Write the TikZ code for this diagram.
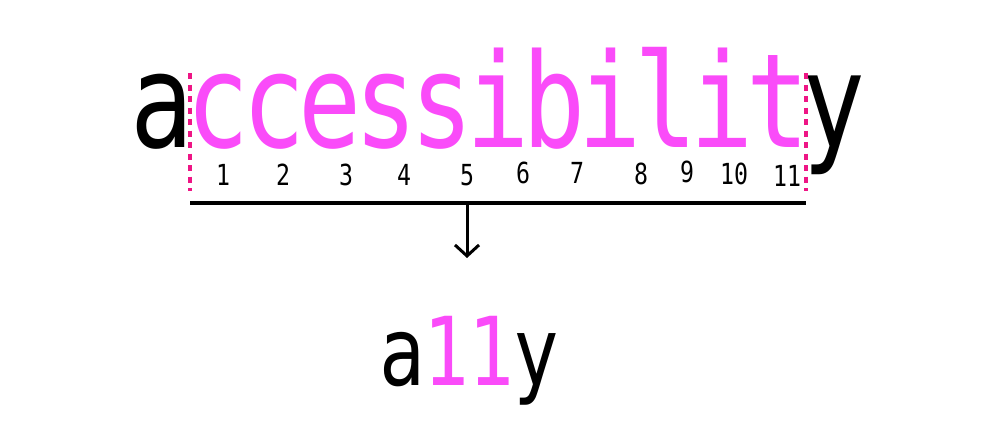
\documentclass[tikz,border=0pt]{standalone}
\usepackage{fontspec}
\usetikzlibrary{arrows.meta}
\newfontfamily\wordfont[FakeStretch=0.8]{DejaVu Sans Mono}
\newfontfamily\numfont[FakeStretch=0.8]{DejaVu Sans Mono}
\definecolor{letterpink}{HTML}{FA4BF9}
\definecolor{dashpink}{HTML}{EE1585}

\begin{document}
\begin{tikzpicture}[x=1pt,y=-1pt,
  bigletter/.style={inner sep=0pt,anchor=base,font=\wordfont\fontsize{131}{131}\selectfont},
  smallletter/.style={inner sep=0pt,anchor=base,font=\wordfont\fontsize{95}{95}\selectfont},
  count/.style={inner sep=0pt,anchor=base,font=\numfont\fontsize{29}{29}\selectfont},
  marker/.style={dashpink,line width=3.5pt,dash pattern=on 6pt off 5.5pt}]
  \useasboundingbox (0,0) rectangle (1000,420);
  % the long word, one letter per cell
  \foreach \ch/\k/\col in {a/0/black,c/1/letterpink,c/2/letterpink,e/3/letterpink,
      s/4/letterpink,s/5/letterpink,i/6/letterpink,b/7/letterpink,i/8/letterpink,
      l/9/letterpink,i/10/letterpink,t/11/letterpink,y/12/black}
    \node[bigletter,text=\col] (w\k) at (162+56*\k,147) {\ch};
  \coordinate (ml) at (190,73);
  \coordinate (mr) at (806,73);
  \draw[marker] (ml) -- ++(0,118);
  \draw[marker] (mr) -- ++(0,118);
  % letter counts
  \node[count] (n1) at (223,185) {1};
  \node[count] (n2) at (283,185) {2};
  \node[count] (n3) at (346,185) {3};
  \node[count] (n4) at (404,185) {4};
  \node[count] (n5) at (467,185) {5};
  \node[count] (n6) at (523,183) {6};
  \node[count] (n7) at (577,183) {7};
  \node[count] (n8) at (641,184) {8};
  \node[count] (n9) at (687,182) {9};
  \node[count] (n10) at (734,184) {10};
  \node[count] (n11) at (787,186) {11};
  % bracket and arrow
  \coordinate (bl) at (190,203);
  \coordinate (br) at (806,203);
  \coordinate (top) at (467,203);
  \coordinate (tip) at (467,258);
  \draw[line width=3.5pt] (bl) -- (br);
  \draw[line width=3pt,-{Straight Barb[length=11pt,width=24pt]}] (top) -- (tip);
  % the numeronym
  \foreach \ch/\k/\col in {a/0/black,1/1/letterpink,1/2/letterpink,y/3/black}
    \node[smallletter,text=\col] (s\k) at (402+44.7*\k,385) {\ch};
\end{tikzpicture}
\end{document}
